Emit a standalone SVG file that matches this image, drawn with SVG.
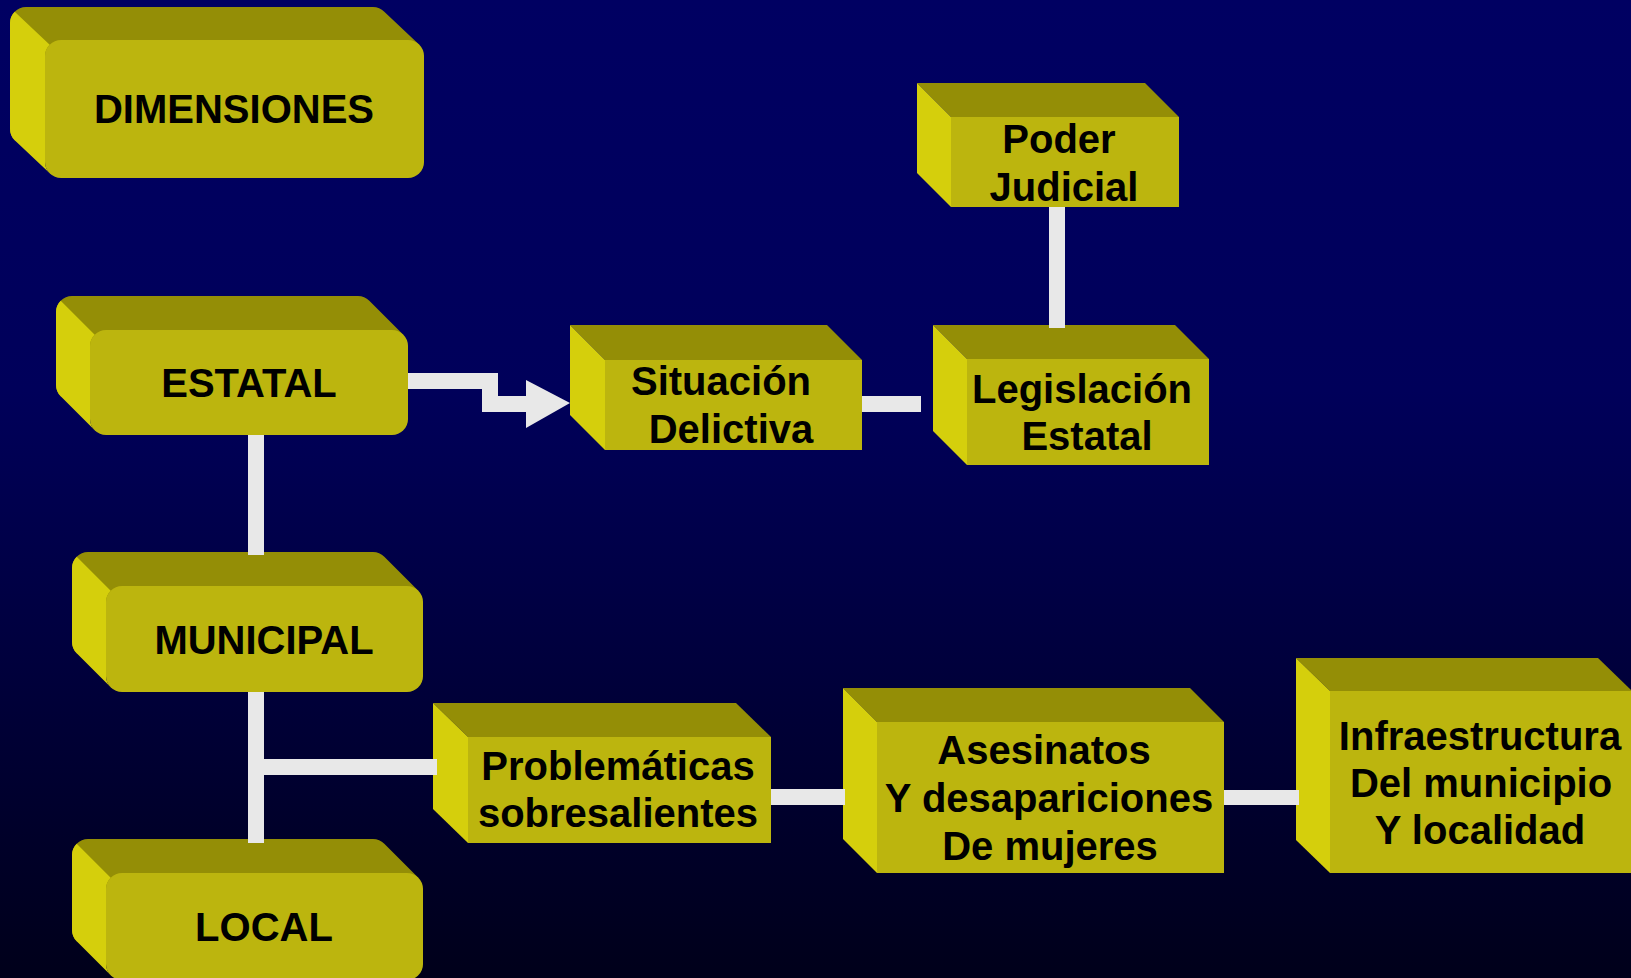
<svg xmlns="http://www.w3.org/2000/svg" width="1631" height="978" viewBox="0 0 1631 978">
<defs>
<linearGradient id="bg" x1="0" y1="0" x2="0" y2="1">
<stop offset="0" stop-color="#000062"/>
<stop offset="0.4" stop-color="#00005A"/>
<stop offset="1" stop-color="#00001A"/>
</linearGradient>
<style>
.top{fill:#948E06}
.left{fill:#D5CF0C}
.front{fill:#BCB50E}
.lbl{font-family:"Liberation Sans",Arial,sans-serif;font-weight:bold;font-size:40px;fill:#000;text-anchor:middle}
.conn{fill:#E8E8E8}
</style>
</defs>
<rect x="0" y="0" width="1631" height="978" fill="url(#bg)"/>

<g id="dimensiones">
<path class="top" d="M10,23 A16,16 0 0 1 26,7 L373,7 A16,16 0 0 1 384.3,11.7 L419.3,44.7 L408,162 L61,162 L14.7,140.3 A16,16 0 0 1 10,129 Z"/>
<path class="left" d="M14.7,11.7 A16,16 0 0 0 10,23 L10,129 A16,16 0 0 0 14.7,140.3 L49.7,173.3 A16,16 0 0 1 45,162 L45,56 A16,16 0 0 1 49.7,44.7 Z"/>
<rect class="front" x="45" y="40" width="379" height="138" rx="16"/>
<text class="lbl" x="234" y="123">DIMENSIONES</text>
</g>

<g id="estatal">
<path class="top" d="M56,312 A16,16 0 0 1 72,296 L358,296 A16,16 0 0 1 369.3,300.7 L403.3,334.7 L392,419 L106,419 L60.7,396.3 A16,16 0 0 1 56,385 Z"/>
<path class="left" d="M60.7,300.7 A16,16 0 0 0 56,312 L56,385 A16,16 0 0 0 60.7,396.3 L94.7,430.3 A16,16 0 0 1 90,419 L90,346 A16,16 0 0 1 94.7,334.7 Z"/>
<rect class="front" x="90" y="330" width="318" height="105" rx="16"/>
<text class="lbl" x="249" y="397">ESTATAL</text>
</g>

<g id="municipal">
<path class="top" d="M72,568 A16,16 0 0 1 88,552 L373,552 A16,16 0 0 1 384.3,556.7 L418.3,590.7 L407,676 L122,676 L76.7,653.3 A16,16 0 0 1 72,642 Z"/>
<path class="left" d="M76.7,556.7 A16,16 0 0 0 72,568 L72,642 A16,16 0 0 0 76.7,653.3 L110.7,687.3 A16,16 0 0 1 106,676 L106,602 A16,16 0 0 1 110.7,590.7 Z"/>
<rect class="front" x="106" y="586" width="317" height="106" rx="16"/>
<text class="lbl" x="264" y="654">MUNICIPAL</text>
</g>

<g id="local">
<path class="top" d="M72,855 A16,16 0 0 1 88,839 L373,839 A16,16 0 0 1 384.3,843.7 L418.3,877.7 L407,964 L122,964 L76.7,941.3 A16,16 0 0 1 72,930 Z"/>
<path class="left" d="M76.7,843.7 A16,16 0 0 0 72,855 L72,930 A16,16 0 0 0 76.7,941.3 L110.7,975.3 A16,16 0 0 1 106,964 L106,889 A16,16 0 0 1 110.7,877.7 Z"/>
<rect class="front" x="106" y="873" width="317" height="107" rx="16"/>
<text class="lbl" x="264" y="941">LOCAL</text>
</g>

<g id="situacion">
<polygon class="top" points="570,325 827,325 862,360 605,360"/>
<polygon class="left" points="570,325 605,360 605,450 570,415"/>
<rect class="front" x="605" y="360" width="257" height="90"/>
<text class="lbl" x="721" y="395">Situación</text>
<text class="lbl" x="731" y="443">Delictiva</text>
</g>

<g id="poder">
<polygon class="top" points="917,83 1145,83 1179,117 951,117"/>
<polygon class="left" points="917,83 951,117 951,207 917,173"/>
<rect class="front" x="951" y="117" width="228" height="90"/>
<text class="lbl" x="1059" y="153">Poder</text>
<text class="lbl" x="1064" y="201">Judicial</text>
</g>

<g id="legislacion">
<polygon class="top" points="933,325 1175,325 1209,359 967,359"/>
<polygon class="left" points="933,325 967,359 967,465 933,431"/>
<rect class="front" x="967" y="359" width="242" height="106"/>
<text class="lbl" x="1082" y="403">Legislación</text>
<text class="lbl" x="1087" y="450">Estatal</text>
</g>

<g id="problematicas">
<polygon class="top" points="433,703 736,703 771,737 468,737"/>
<polygon class="left" points="433,703 468,737 468,843 433,809"/>
<rect class="front" x="468" y="737" width="303" height="106"/>
<text class="lbl" x="618" y="780">Problemáticas</text>
<text class="lbl" x="618" y="827">sobresalientes</text>
</g>

<g id="asesinatos">
<polygon class="top" points="843,688 1190,688 1224,722 877,722"/>
<polygon class="left" points="843,688 877,722 877,873 843,839"/>
<rect class="front" x="877" y="722" width="347" height="151"/>
<text class="lbl" x="1044" y="764">Asesinatos</text>
<text class="lbl" x="1049" y="812">Y desapariciones</text>
<text class="lbl" x="1050" y="860">De mujeres</text>
</g>

<g id="infraestructura">
<polygon class="top" points="1296,658 1598,658 1632,691 1330,691"/>
<polygon class="left" points="1296,658 1330,691 1330,873 1296,840"/>
<rect class="front" x="1330" y="691" width="302" height="182"/>
<text class="lbl" x="1480" y="750">Infraestructura</text>
<text class="lbl" x="1481" y="797">Del municipio</text>
<text class="lbl" x="1480" y="844">Y localidad</text>
</g>

<g id="connectors">
<polygon class="conn" points="408,373 498,373 498,396 526,396 526,380 570,403 526,428 526,412 482,412 482,389 408,389"/>
<rect class="conn" x="248" y="435" width="16" height="120"/>
<rect class="conn" x="248" y="692" width="16" height="151"/>
<rect class="conn" x="263" y="759" width="174" height="16"/>
<rect class="conn" x="1049" y="207" width="16" height="121"/>
<rect class="conn" x="862" y="396" width="59" height="16"/>
<rect class="conn" x="771" y="789" width="74" height="16"/>
<rect class="conn" x="1224" y="790" width="75" height="15"/>
</g>
</svg>
